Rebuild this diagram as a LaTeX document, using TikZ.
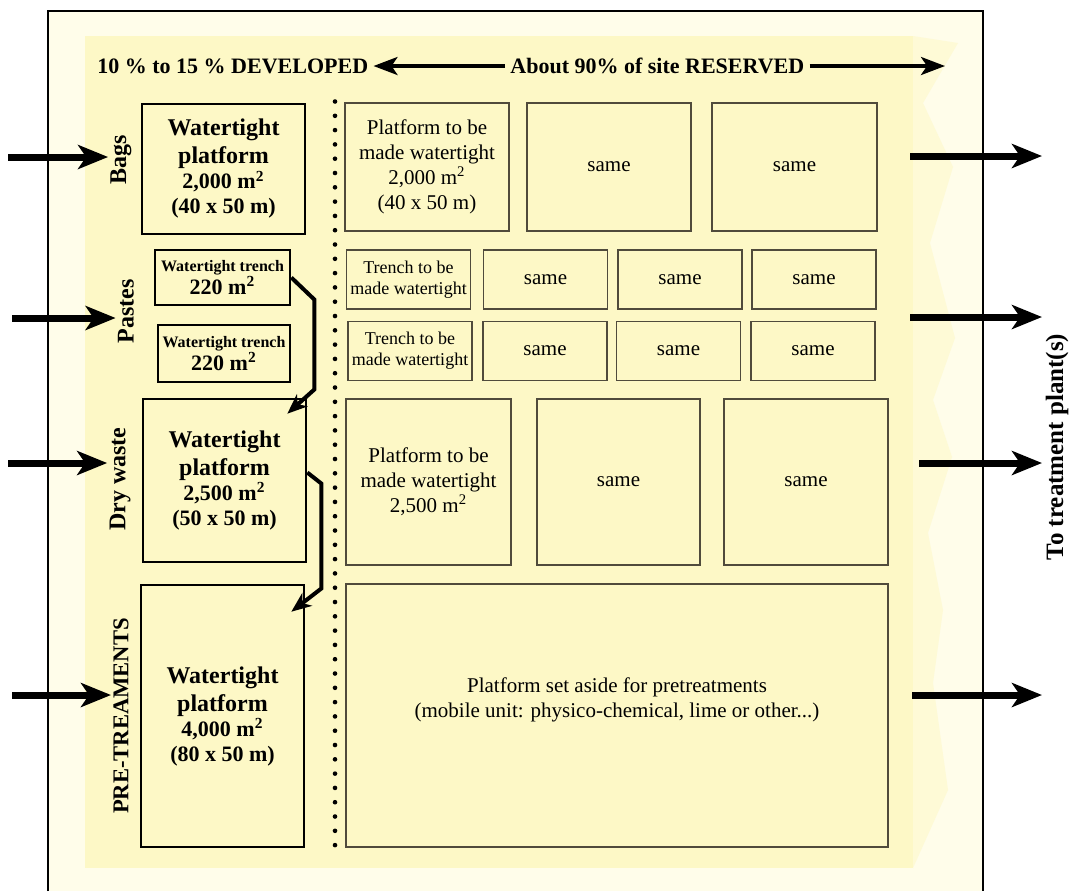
\documentclass[tikz,border=0pt]{standalone}
\usepackage{fontspec}
\setmainfont{LiberationSerif}[Extension=.ttf, UprightFont=*-Regular, BoldFont=*-Bold, ItalicFont=*-Italic, BoldItalicFont=*-BoldItalic]
\usepackage{tikz}
\usetikzlibrary{arrows.meta, positioning, calc}
\definecolor{sitecream}{RGB}{255,253,234}
\definecolor{siteyellow}{RGB}{253,248,198}
\definecolor{sitezig}{RGB}{254,250,214}
\definecolor{boxline}{RGB}{80,75,60}
\newcommand{\arealine}{\fontsize{11}{12.5}\selectfont}

\begin{document}
\begin{tikzpicture}[x=0.5pt, y=-0.5pt,
    sealed/.style={rectangle, draw, line width=1.3pt, fill=siteyellow, align=center, inner sep=0pt, font=\fontsize{12}{14}\selectfont\bfseries},
    reserve/.style={rectangle, draw=boxline, line width=0.7pt, fill=siteyellow, align=center, inner sep=0pt, font=\fontsize{10.5}{12.5}\selectfont},
    trenchbox/.style={reserve, minimum width=62pt, minimum height=29.5pt},
    sidelabel/.style={rotate=90, inner sep=1pt, font=\fontsize{12}{14}\selectfont\bfseries},
    toplabel/.style={anchor=west, inner sep=2.5pt, font=\fontsize{11}{13}\selectfont\bfseries},
    inflow/.style={line width=3.5pt, -{Stealth[length=15pt, width=12pt, inset=4pt]}},
    spanarrow/.style={line width=1.7pt, -{Stealth[length=12pt, width=9pt, inset=3pt]}},
    transfer/.style={line width=2pt, -{Stealth[length=10pt, width=8pt, inset=3pt]}}
]
    \useasboundingbox (0,0) rectangle (1074,891);

    % Site
    \fill[sitecream] (48,11) rectangle (983,891);
    \fill[siteyellow] (85,36) rectangle (913,868);
    \fill[sitezig] (913,36) -- (958,43) -- (923,103) -- (953,167) -- (930,243) -- (955,338) -- (933,400) -- (952,457) -- (928,533) -- (943,610) -- (933,683) -- (948,790) -- (913,868) -- cycle;
    \draw[line width=1pt] (48,891) |- (983,11) -- (983,891);
    \draw[line width=2.3pt, line cap=round, dash pattern=on 0pt off 7.15pt] (335,101.5) -- (335,848);

    % Shares of the site
    \node[toplabel] (developed) at (92,66) {10 \% to 15 \% DEVELOPED};
    \node[toplabel] (reserved) at (505,66) {About 90\% of site RESERVED};
    \coordinate (siteEnd) at (945,66);
    \draw[spanarrow] (reserved.west) -- (developed.east);
    \draw[spanarrow] (reserved.east) -- (siteEnd);

    % Wastes
    \node[sidelabel] (bags) at (121,160) {Bags};
    \node[sidelabel] (pastes) at (126,311) {Pastes};
    \node[sidelabel] (dry) at (120,479) {Dry waste};
    \node[sidelabel, font=\fontsize{11.3}{13}\selectfont\bfseries] (pre) at (121,716) {PRE-TREAMENTS};

    % Developed platforms
    \node[sealed, minimum width=81.5pt, minimum height=65pt] (bagsPad) at (223.5,169) {Watertight\\platform\\[-1.5pt]\arealine 2,000 m\textsuperscript{2}\\[-1.5pt]\arealine (40 x 50 m)};
    \node[sealed, minimum width=67.5pt, minimum height=27.5pt, font=\fontsize{8}{11.5}\selectfont\bfseries] (trenchA) at (222.5,277.5) {Watertight trench\\\arealine 220 m\textsuperscript{2}};
    \node[sealed, minimum width=66pt, minimum height=28.5pt, font=\fontsize{8}{11.5}\selectfont\bfseries] (trenchB) at (224,353.5) {Watertight trench\\\arealine 220 m\textsuperscript{2}};
    \node[sealed, minimum width=81.5pt, minimum height=81.5pt] (dryPad) at (224.5,480.5) {Watertight\\platform\\[-1.5pt]\arealine 2,500 m\textsuperscript{2}\\[-1.5pt]\arealine (50 x 50 m)};
    \node[sealed, minimum width=81.5pt, minimum height=131pt] (prePad) at (222.5,716) {Watertight\\platform\\[-1.5pt]\arealine 4,000 m\textsuperscript{2}\\[-1.5pt]\arealine (80 x 50 m)};

    % Reserved platforms
    \node[reserve, minimum width=82pt, minimum height=64pt] (bagsR1) at (427,167) {Platform to be\\made watertight\\2,000 m\textsuperscript{2}\\(40 x 50 m)};
    \node[reserve, minimum width=82pt, minimum height=64pt] (bagsR2) at (609,167) {same};
    \node[reserve, minimum width=82.5pt, minimum height=64pt] (bagsR3) at (794.5,167) {same};
    \node[trenchbox, font=\fontsize{9}{10.5}\selectfont] (pasteA1) at (408.5,279.5) {Trench to be\\made watertight};
    \node[trenchbox] (pasteA2) at (545.5,279.5) {same};
    \node[trenchbox] (pasteA3) at (680,279.5) {same};
    \node[trenchbox] (pasteA4) at (814,279.5) {same};
    \node[trenchbox, font=\fontsize{9}{10.5}\selectfont] (pasteB1) at (410,351) {Trench to be\\made watertight};
    \node[trenchbox] (pasteB2) at (545,351) {same};
    \node[trenchbox] (pasteB3) at (678.5,351) {same};
    \node[trenchbox] (pasteB4) at (813,351) {same};
    \node[reserve, minimum width=82.5pt, minimum height=83pt] (dryR1) at (428.5,482) {Platform to be\\made watertight\\2,500 m\textsuperscript{2}};
    \node[reserve, minimum width=81.5pt, minimum height=83pt] (dryR2) at (618.5,482) {same};
    \node[reserve, minimum width=82pt, minimum height=83pt] (dryR3) at (806,482) {same};
    \node[reserve, minimum width=271pt, minimum height=131.5pt] (preR) at (617,715.5) {};
    \node[align=center, font=\fontsize{10.5}{12.5}\selectfont] (preText) at (617,700) {Platform set aside for pretreatments\\(mobile unit: physico-chemical, lime or other...)};

    % Flows
    \foreach \lab/\y/\xs in {bags/157/8, pastes/318/12, dry/463/8, pre/695/12} {
        \coordinate (in-\lab) at (\xs,\y);
        \draw[inflow] (in-\lab) -- (in-\lab -| \lab.north);
    }
    \draw[transfer] (trenchA.east) -- ++(23,22) -- ++(0,90) -- ([shift={(-20,16)}]dryPad.north east);
    \draw[transfer] ([shift={(0,-8)}]dryPad.east) -- ++(14,11) -- ++(0,105) -- ([shift={(-14,28)}]prePad.north east);
    \foreach \n/\y/\xs in {1/156/910, 2/317/910, 3/463/919, 4/695/912} {
        \coordinate (out\n) at (\xs,\y);
        \coordinate (plant\n) at (1042,\y);
        \draw[inflow] (out\n) -- (plant\n);
    }
    \node[sidelabel, font=\fontsize{12.5}{14}\selectfont\bfseries] (plant) at (1057,447) {To treatment plant(s)};
\end{tikzpicture}
\end{document}
